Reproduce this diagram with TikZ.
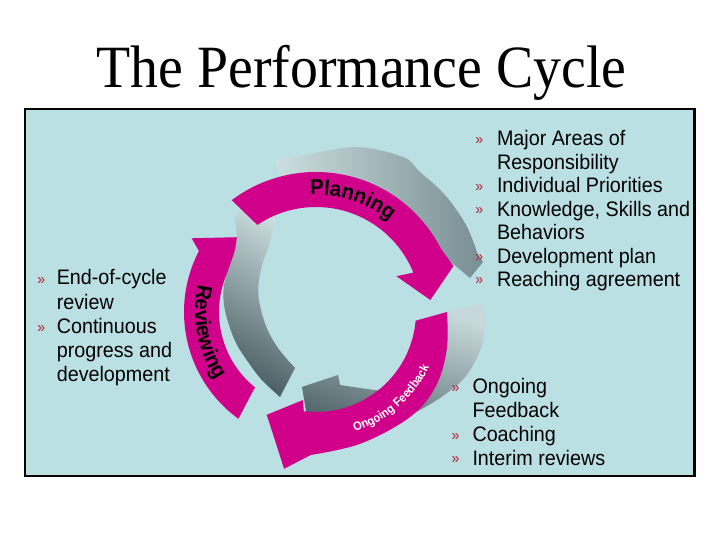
\documentclass[tikz,border=0pt]{standalone}
\usepackage{fontspec}
\setmainfont{Liberation Sans}[FakeStretch=0.94]
\newfontfamily\titlefont{Liberation Serif}[FakeStretch=0.93]
\usetikzlibrary{decorations.text}
\definecolor{bgblue}{RGB}{187,224,227}
\definecolor{mag}{RGB}{209,0,139}
\definecolor{bulletred}{RGB}{180,30,50}
\definecolor{grayL}{RGB}{205,222,224}
\definecolor{grayM}{RGB}{140,162,166}
\definecolor{grayD}{RGB}{75,95,100}
\tikzset{
  listtext/.style={anchor=base west, inner sep=0pt, font=\fontsize{21}{21}\selectfont},
  bul/.style={anchor=base, inner sep=0pt, text=bulletred, font=\fontsize{15}{15}\selectfont},
  magarrow/.style={fill=mag},
  arrowtext/.style={decorate, decoration={text along path, text align=center, text={|\bfseries\fontsize{21.5}{21.5}\selectfont|#1}}},
}
\begin{document}
\begin{tikzpicture}[x=1pt,y=1pt]
\useasboundingbox (0,0) rectangle (720,540);
\fill[white] (0,0) rectangle (720,540);
\node[anchor=base, inner sep=0pt, font=\titlefont\fontsize{60}{60}\selectfont] (title) at (361.5,452) {The Performance Cycle};
\draw[line width=2.4pt, fill=bgblue] (25.2,63.7) rectangle (694.5,431);

% gray arrow, top right (behind Planning)
\shade[left color=grayL, right color=grayM!70!grayD]
  plot[smooth, tension=0.6] coordinates {(275,380) (310,386) (357,393) (403,383) (420,368) (445,345) (466,315) (478,285)}
  -- (483,278) -- (470,262) -- (440,287) -- (412.1,303.1)
  arc[start angle=38, end angle=104, radius=122] -- cycle;

% gray arrow, right and bottom (behind Ongoing Feedback)
\shade[top color=grayL!90!grayM, bottom color=grayD, shading angle=-20]
  (447,229) -- (483,236)
  -- plot[smooth, tension=0.6] coordinates {(483,236) (485,215) (481,192) (466,164) (443,144) (420,130)}
  -- (380,108) -- (320,98) -- (307,123) -- (302,153) -- (338,165) -- (340,155)
  -- plot[smooth, tension=0.6] coordinates {(340,155) (360,152) (382,149)}
  -- (400,165) -- (420,190) -- (432,218) -- cycle;

\begin{scope}[shift={(316,228)}]
% Ongoing Feedback arrow
\fill[magarrow]
  plot[smooth, tension=0.6] coordinates {(0:131) (-16:136) (-32:141) (-48:141) (-71:139) (-92:143)}
  -- (-101.5:160) -- (-115.6:114) -- (-98.4:89) -- (-97:100)
  arc[start angle=-97, end angle=-5, radius=100] -- cycle;
% Reviewing arrow
\fill[magarrow] (234:132) arc[start angle=234, end angle=152.5, radius=132]
  -- (-124.3,73.7) -- (-70,75) -- (-81,32) -- (154.4:97)
  arc[start angle=154.4, end angle=231, radius=97] -- cycle;
\end{scope}

% gray arrow, left (over Reviewing, under Planning)
\shade[top color=grayL, bottom color=grayD, shading angle=-30]
  (257,342) -- (235,323)
  -- plot[smooth, tension=0.6] coordinates {(237,305) (235,290) (229,272) (224,255) (224,235) (229,215) (236,197) (246,181) (261,161) (280,143)}
  -- (295,172)
  -- plot[smooth, tension=0.6] coordinates {(295,172) (278,192) (266,214) (259,240) (259,260) (263,278) (268,292) (272,306)}
  -- (276,320) -- cycle;

\begin{scope}[shift={(316,228)}]
% Planning arrow
\fill[magarrow] (127:140) arc[start angle=127, end angle=27, radius=140]
  -- (18.5:145) -- (6:115) -- (24:88) -- (22:105)
  arc[start angle=22, end angle=124, radius=105] -- cycle;
% arrow labels
\path[arrowtext=Planning] (100:117) arc[start angle=100, end angle=44, radius=117];
\path[arrowtext=Reviewing] (158:121) arc[start angle=158, end angle=223, radius=121];
\path[decorate, decoration={text along path, text align=center, text color=white,
   text={|\bfseries\fontsize{12}{12}\selectfont|Ongoing Feedback}}]
   (-77:126) arc[start angle=-77, end angle=-21, radius=126];
\end{scope}

% right list
\node[listtext] (r1) at (496.8,394) {Major Areas of};
\node[listtext] (r2) at (496.8,370.5) {Responsibility};
\node[listtext] (r3) at (496.8,347.1) {Individual Priorities};
\node[listtext] (r4) at (496.8,323.6) {Knowledge, Skills and};
\node[listtext] (r5) at (496.8,300.2) {Behaviors};
\node[listtext] (r6) at (496.8,276.7) {Development plan};
\node[listtext] (r7) at (496.8,253.3) {Reaching agreement};
\node[bul] (rb1) at (479.2,395.7) {»};
\node[bul] (rb3) at (479.2,348.8) {»};
\node[bul] (rb4) at (479.2,325.3) {»};
\node[bul] (rb6) at (479.2,278.4) {»};
\node[bul] (rb7) at (479.2,255.0) {»};

% left list
\node[listtext] (l1) at (56.6,255) {End-of-cycle};
\node[listtext] (l2) at (56.6,230.8) {review};
\node[listtext] (l3) at (56.6,206.6) {Continuous};
\node[listtext] (l4) at (56.6,182.4) {progress and};
\node[listtext] (l5) at (56.6,158.2) {development};
\node[bul] (lb1) at (41.2,255.9) {»};
\node[bul] (lb3) at (41.2,207.5) {»};

% bottom list
\node[listtext] (b1) at (472.3,146) {Ongoing};
\node[listtext] (b2) at (472.3,122.2) {Feedback};
\node[listtext] (b3) at (472.3,98.5) {Coaching};
\node[listtext] (b4) at (472.3,74.7) {Interim reviews};
\node[bul] (bb1) at (455.5,147.4) {»};
\node[bul] (bb3) at (455.5,99.9) {»};
\node[bul] (bb4) at (455.5,76.1) {»};
\end{tikzpicture}
\end{document}
